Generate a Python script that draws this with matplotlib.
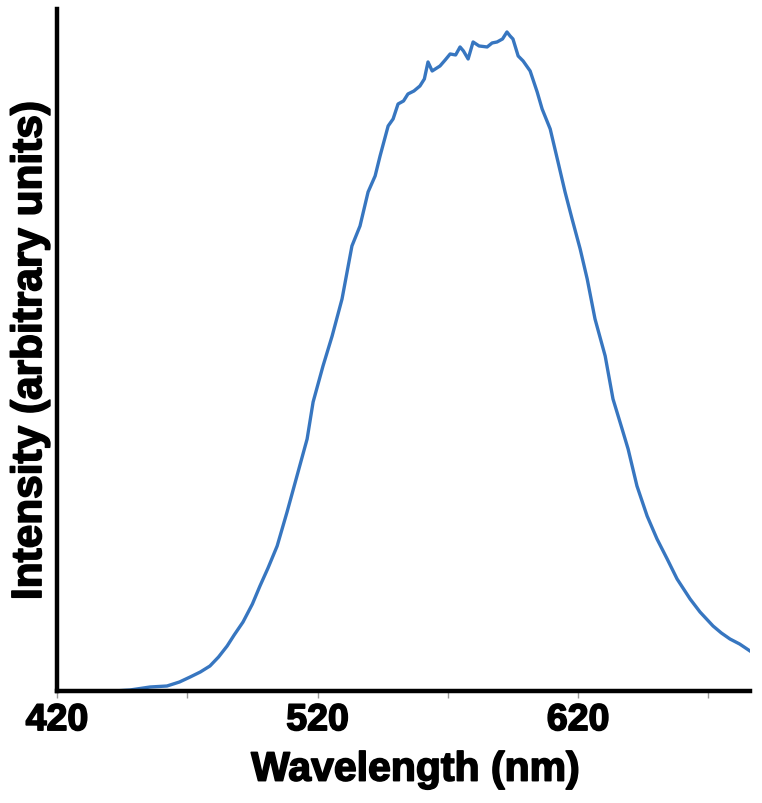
import matplotlib.pyplot as plt
import matplotlib.patheffects as pe

# spectrum (nm, arbitrary intensity)
wavelength = [442, 448, 455.7, 462.2, 467, 471.1, 475, 478.7, 482, 485.3, 488, 491.4,
              495, 497.9, 501, 504.5, 508.3, 512.1, 516.0, 518.3, 522.1, 525.6,
              529.4, 533.2, 536.3, 539.4, 542.1, 544.0, 547.1, 549, 550.9, 553,
              554.7, 557, 559.3, 561, 562.4, 564, 567.0, 569, 570.9, 573, 574.7,
              576, 577.8, 579.7, 582, 585.1, 587, 588.9, 591, 592.7, 593.9, 595.0,
              597.0, 598.9, 601.6, 604.3, 606.2, 609.3, 612.3, 615.0, 617.7, 620.8,
              623.5, 626.5, 630.4, 633.4, 636.9, 639.2, 642.6, 646.5, 650.3, 654.2,
              658.0, 663.0, 666.8, 671.8, 675, 678.3, 682, 686.0]
intensity = [0, 1, 4, 5, 9, 14, 19, 25, 34, 45, 56, 69,
             87, 105, 123, 145, 179, 215, 252, 289, 325, 355,
             392, 445, 465, 499, 515, 535, 565, 572, 587, 590,
             597, 600, 605, 612, 629, 620, 625, 631, 637, 636, 644,
             640, 632, 649, 645, 644, 648, 649, 652, 659, 655, 652,
             635, 630, 620, 599, 582, 562, 529, 499, 472, 442,
             412, 372, 335, 292, 262, 242, 205, 175, 152, 132,
             112, 92, 79, 65, 58, 52, 47, 40]

tick_pos = [420, 470, 520, 570, 620, 670]
tick_labels = ['420', '', '520', '', '620', '']

plt.rcParams['font.family'] = ['Liberation Sans', 'DejaVu Sans']

fig = plt.figure(figsize=(7.62, 8.04), dpi=100)
ax = fig.add_axes([0.0748, 0.1393, 0.9095, 0.8483])

ax.plot(wavelength, intensity, color='#3776c0', linewidth=2.4)

ax.set_xlim(420, 686)
ax.set_ylim(0, 682)

for side in ['top', 'right']:
    ax.spines[side].set_visible(False)
for side in ['left', 'bottom']:
    ax.spines[side].set_linewidth(3.2)
    ax.spines[side].set_color('black')

heavy = [pe.withStroke(linewidth=1.2, foreground='black')]

ax.set_yticks([])
ax.set_xticks(tick_pos)
ax.set_xticklabels(tick_labels, fontsize=27, fontweight='bold')
for lbl in ax.get_xticklabels():
    lbl.set_path_effects(heavy)
ax.tick_params(axis='x', length=5, width=1, color='#999999', pad=3)

ax.set_xlabel('Wavelength (nm)', fontsize=29.5, fontweight='bold', labelpad=9,
              path_effects=heavy)
ax.xaxis.label.set_x(0.517)
ax.set_ylabel('Intensity (arbitrary units)', fontsize=30.5, fontweight='bold', labelpad=5,
              path_effects=heavy)

fig.savefig('out.png', dpi=100)
